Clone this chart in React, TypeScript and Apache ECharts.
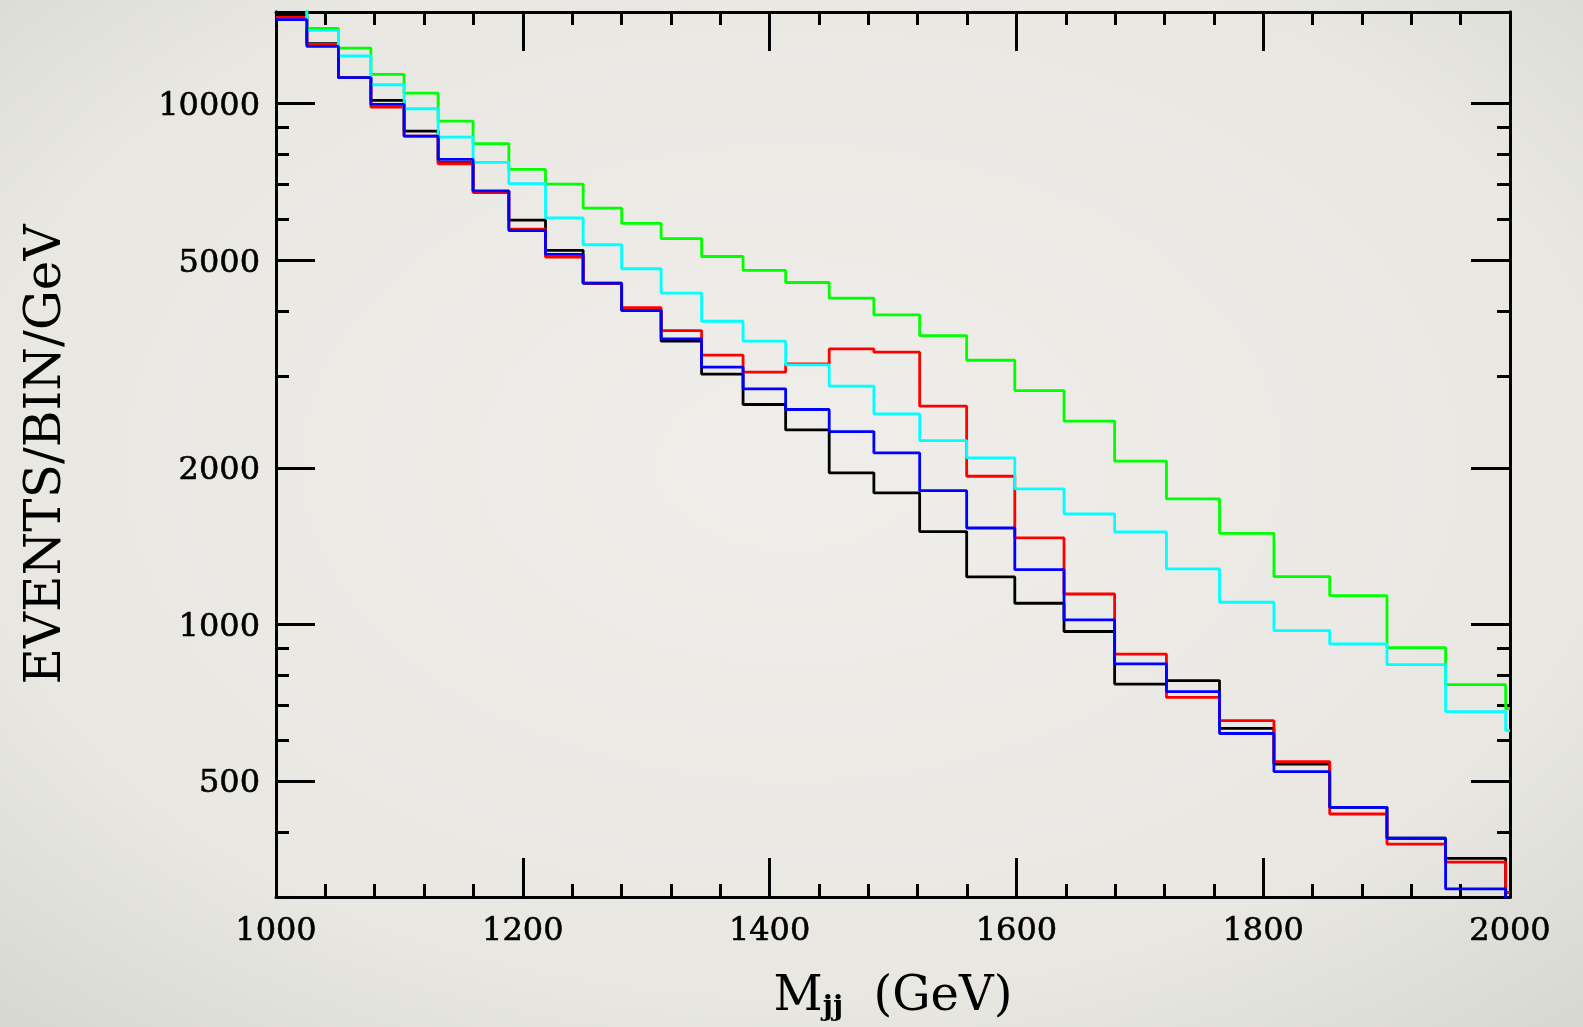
import React, { useEffect, useRef } from "react";
import * as echarts from "echarts";

// bin lower edges (GeV)
const binEdges = [
  1000, 1025, 1050.6, 1076.9, 1103.8, 1131.4, 1159.7, 1188.7, 1218.4, 1248.9,
  1280.1, 1312.1, 1344.9, 1378.5, 1413.0, 1448.3, 1484.5, 1521.6, 1559.7,
  1598.7, 1638.6, 1679.6, 1721.6, 1764.6, 1808.7, 1853.9, 1900.3, 1947.8,
  1996.5,
];

const blackVals = [
  14780, 13040, 11220, 10150, 8860, 7710, 6790, 5980, 5230, 4520, 4010, 3500,
  3025, 2646, 2365, 1956, 1790, 1509, 1235, 1099, 970, 769, 781, 632, 540, 446,
  389, 356, 295,
];
const redVals = [
  14650, 13000, 11220, 9850, 8665, 7670, 6755, 5744, 5076, 4524, 4058, 3669,
  3290, 3052, 3167, 3383, 3334, 2626, 1927, 1467, 1145, 878, 725, 654, 546, 433,
  379, 350, 306,
];
const blueVals = [
  14500, 12880, 11220, 9970, 8665, 7816, 6805, 5710, 5136, 4524, 4009, 3538,
  3120, 2836, 2588, 2348, 2136, 1808, 1533, 1275, 1021, 841, 744, 618, 522, 446,
  389, 311, 290,
];
const greenVals = [
  16000, 13950, 12790, 11385, 10480, 9261, 8380, 7478, 7011, 6303, 5890, 5510,
  5090, 4786, 4537, 4233, 3932, 3589, 3218, 2814, 2458, 2060, 1744, 1497, 1236,
  1137, 903, 767, 690,
];
const cyanVals = [
  16000, 13830, 12350, 10875, 9781, 8627, 7714, 7022, 6040, 5361, 4822, 4330,
  3823, 3501, 3152, 2869, 2539, 2256, 2090, 1822, 1631, 1506, 1279, 1104, 974,
  918, 838, 681, 626,
];

const yMajorTicks = [500, 1000, 2000, 5000, 10000];
const yMinorTicks = [400, 600, 700, 800, 900, 3000, 4000, 6000, 7000, 8000, 9000];

const X_MIN = 1000;
const X_MAX = 2000;
const Y_MIN = 300;
const Y_MAX = 15000;

const FONT = "DejaVu Serif";

const toSteps = (vals: number[]) => [
  ...binEdges.map((e, i) => [e, vals[i]]),
  [X_MAX, vals[vals.length - 1]],
];

const App: React.FC = () => {
  const chartRef = useRef<HTMLDivElement>(null);

  useEffect(() => {
    if (!chartRef.current) return;
    const chart = echarts.init(chartRef.current, null, { renderer: "svg" });

    const line = { color: "#000", width: 3 };
    const labelStyle = {
      fontFamily: FONT,
      fontSize: 32,
      color: "#000",
      textBorderColor: "#000",
      textBorderWidth: 0.6,
    };

    const xBase = (pos: "bottom" | "top", labels: boolean) => ({
      type: "value",
      position: pos,
      min: X_MIN,
      max: X_MAX,
      interval: 200,
      axisLine: { show: true, onZero: false, lineStyle: line },
      axisTick: { show: true, inside: true, length: 39, lineStyle: line },
      minorTick: { show: true, splitNumber: 5, length: 13, lineStyle: line },
      splitLine: { show: false },
      minorSplitLine: { show: false },
      axisLabel: {
        show: labels,
        ...labelStyle,
        margin: 16,
        formatter: (v: number) => String(v),
      },
    });

    const yBase = (
      pos: "left" | "right",
      ticks: number[],
      len: number,
      labels: boolean
    ) => ({
      type: "log",
      logBase: 10,
      position: pos,
      min: Y_MIN,
      max: Y_MAX,
      axisLine: { show: true, onZero: false, lineStyle: line },
      axisTick: {
        show: true,
        inside: true,
        length: len,
        lineStyle: line,
        customValues: ticks,
      },
      minorTick: { show: false },
      splitLine: { show: false },
      axisLabel: {
        show: labels,
        customValues: ticks,
        ...labelStyle,
        margin: 16,
        formatter: (v: number) => String(Math.round(v)),
      },
    });

    const mkSeries = (name: string, color: string, vals: number[]) => ({
      name,
      type: "line",
      step: "end",
      xAxisIndex: 0,
      yAxisIndex: 0,
      showSymbol: false,
      symbol: "none",
      clip: true,
      lineStyle: { color, width: 2.8 },
      itemStyle: { color },
      data: toSteps(vals),
    });

    chart.setOption({
      animation: false,
      backgroundColor: new echarts.graphic.RadialGradient(0.5, 0.45, 0.8, [
        { offset: 0, color: "#efeeea" },
        { offset: 0.65, color: "#e8e7e2" },
        { offset: 1, color: "#d3d3cd" },
      ]),
      grid: {
        left: 276,
        top: 12,
        width: 1234,
        height: 885,
        containLabel: false,
        outerBoundsMode: "none",
      },
      xAxis: [
        {
          ...xBase("bottom", true),
          name: "{m|M}{s|jj}{m|  (GeV)}",
          nameLocation: "middle",
          nameGap: 72,
          nameTextStyle: {
            rich: {
              m: {
                fontFamily: FONT,
                fontSize: 48,
                color: "#000",
                lineHeight: 50,
                verticalAlign: "top",
              },
              s: {
                fontFamily: FONT,
                fontSize: 28,
                fontWeight: "bold",
                color: "#000",
                lineHeight: 50,
                verticalAlign: "bottom",
              },
            },
          },
        },
        xBase("top", false),
      ],
      yAxis: [
        {
          ...yBase("left", yMajorTicks, 39, true),
          name: "EVENTS/BIN/GeV",
          nameLocation: "middle",
          nameGap: 208,
          nameRotate: 90,
          nameTextStyle: { fontFamily: FONT, fontSize: 50, color: "#000" },
        },
        yBase("left", yMinorTicks, 13, false),
        yBase("right", yMajorTicks, 39, false),
        yBase("right", yMinorTicks, 13, false),
      ],
      series: [
        mkSeries("black", "#000000", blackVals),
        mkSeries("red", "#ff0000", redVals),
        mkSeries("green", "#00ff00", greenVals),
        mkSeries("cyan", "#00ffff", cyanVals),
        mkSeries("blue", "#0000ff", blueVals),
      ],
    });

    return () => {
      chart.dispose();
    };
  }, []);

  return (
    <div
      ref={chartRef}
      style={{ position: "fixed", left: 0, top: 0, width: 1583, height: 1027 }}
    />
  );
};

export default App;
